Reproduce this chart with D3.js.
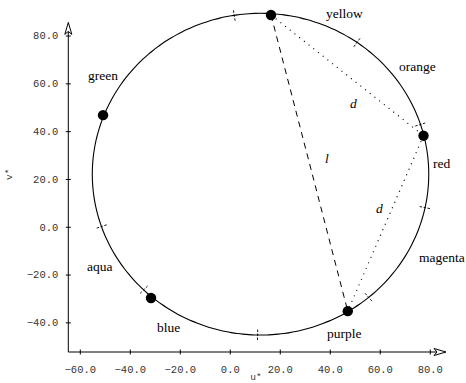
<!DOCTYPE html>
<html>
<head>
<meta charset="utf-8">
<script src="https://cdn.jsdelivr.net/npm/d3@7"></script>
<style>
  html, body { margin: 0; padding: 0; background: #fff; }
  svg { display: block; }
</style>
</head>
<body>
<svg id="chart" width="466" height="383"></svg>
<script>
// Hue circle in the u*v* plane
const tickU = [-60, -40, -20, 0, 20, 40, 60, 80];
const tickV = [-40, -20, 0, 20, 40, 60, 80];

const circleCenter = [12.3, 22.0];
const circleRadius = 67.3;

// Boundaries between named hue regions (degrees)
const boundaryAngles = [99, 55, 18, -12, -50, -91, -134, -161];

// Sample colours on the circle
const pointNames = ["yellow", "red", "green", "blue", "purple"];
const pointU = [16.5, 77.5, -50.7, -31.5, 47.2];
const pointV = [88.6, 38.1, 46.7, -29.8, -35.3];

// Hue region names and where they are written (u*, v*)
const hueNames = ["yellow", "orange", "red", "magenta", "purple", "blue", "aqua", "green"];
const hueLabelU = [38.5, 67.7, 81.3, 75.7, 38.9, -29.1, -57.1, -56.7];
const hueLabelV = [87.4, 65.2, 24.6, -14.9, -46.5, -44.0, -18.5, 61.4];

// Distances between samples: l = yellow-purple, d = yellow-red, d = red-purple
const segments = [
  { from: "yellow", to: "purple", name: "l", style: "dashed", labelU: 38.1, labelV: 26.7 },
  { from: "yellow", to: "red", name: "d", style: "dotted", labelU: 48.1, labelV: 49.7 },
  { from: "red", to: "purple", name: "d", style: "dotted", labelU: 58.5, labelV: 5.8 }
];

const svg = d3.select("#chart");

const x = d3.scaleLinear().domain([-64.6, 86.5]).range([68.3, 446]);
const y = d3.scaleLinear().domain([-52.4, 85.5]).range([352, 22.4]);

const monoFont = "'Liberation Mono', 'DejaVu Sans Mono', monospace";
const serifFont = "'Liberation Serif', 'DejaVu Serif', serif";

// ---- axes ----
const axisY0 = y(-52.4);
const axisX0 = x(-64.6);

const xAxis = d3.axisBottom(x)
  .tickValues(tickU)
  .tickFormat(d3.format(".1f"))
  .tickSize(0)
  .tickPadding(14);
const gx = svg.append("g").attr("transform", `translate(0,${axisY0})`).call(xAxis);
gx.select(".domain").remove();
gx.selectAll(".tick line").attr("y1", -2.5).attr("y2", 2.5).attr("stroke", "#000");
gx.selectAll(".tick text")
  .attr("font-family", monoFont).attr("font-size", 10.5).attr("fill", "#333");

const yAxis = d3.axisLeft(y)
  .tickValues(tickV)
  .tickFormat(d3.format(".1f"))
  .tickSize(0)
  .tickPadding(10);
const gy = svg.append("g").attr("transform", `translate(${axisX0},0)`).call(yAxis);
gy.select(".domain").remove();
gy.selectAll(".tick line").attr("x1", -2.5).attr("x2", 2.5).attr("stroke", "#000");
gy.selectAll(".tick text")
  .attr("font-family", monoFont).attr("font-size", 10.5).attr("fill", "#333");

// axis lines with open arrowheads
const xEnd = x(86.5), yEnd = y(85.5);
svg.append("line").attr("x1", axisX0).attr("y1", axisY0).attr("x2", xEnd - 2).attr("y2", axisY0)
  .attr("stroke", "#000").attr("stroke-width", 1);
svg.append("line").attr("x1", axisX0).attr("y1", axisY0).attr("x2", axisX0).attr("y2", yEnd + 2)
  .attr("stroke", "#000").attr("stroke-width", 1);
svg.append("path")
  .attr("d", `M${xEnd},${axisY0} L${xEnd - 12},${axisY0 - 3.5} L${xEnd - 9},${axisY0} L${xEnd - 12},${axisY0 + 3.5} Z`)
  .attr("fill", "#fff").attr("stroke", "#000").attr("stroke-width", 1);
svg.append("path")
  .attr("d", `M${axisX0},${yEnd} L${axisX0 - 3.5},${yEnd + 12} L${axisX0},${yEnd + 9} L${axisX0 + 3.5},${yEnd + 12} Z`)
  .attr("fill", "#fff").attr("stroke", "#000").attr("stroke-width", 1);

// axis titles
svg.append("text").attr("x", x(10.5)).attr("y", 380)
  .attr("text-anchor", "middle").attr("font-family", monoFont).attr("font-size", 9.5).attr("fill", "#333")
  .text("u*");
svg.append("text").attr("transform", `translate(12,${y(22)}) rotate(-90)`)
  .attr("text-anchor", "middle").attr("font-family", monoFont).attr("font-size", 9.5).attr("fill", "#333")
  .text("v*");

// ---- hue circle ----
const rad = d => d * Math.PI / 180;
const onCircle = (deg, r = circleRadius) => [
  circleCenter[0] + r * Math.cos(rad(deg)),
  circleCenter[1] + r * Math.sin(rad(deg))
];
const circlePts = d3.range(0, 361, 2).map(a => onCircle(a));
svg.append("path")
  .attr("d", d3.line().x(d => x(d[0])).y(d => y(d[1])).curve(d3.curveCardinalClosed)(circlePts.slice(0, -1)))
  .attr("fill", "none").attr("stroke", "#000").attr("stroke-width", 1.1);

// short dashed radial marks at the region boundaries
svg.append("g").selectAll("line").data(boundaryAngles).join("line")
  .each(function (a) {
    const c = onCircle(a);
    const px = x(c[0]), py = y(c[1]);
    // radial direction in screen space
    const dx = Math.cos(rad(a)) * (x(1) - x(0));
    const dy = Math.sin(rad(a)) * (y(1) - y(0));
    const len = Math.hypot(dx, dy);
    const ux = dx / len, uy = dy / len;
    d3.select(this)
      .attr("x1", px - ux * 5.5).attr("y1", py - uy * 5.5)
      .attr("x2", px + ux * 5.5).attr("y2", py + uy * 5.5);
  })
  .attr("stroke", "#000").attr("stroke-width", 0.9).attr("stroke-dasharray", "2.5,1.5");

// ---- distance segments ----
const pointIndex = name => pointNames.indexOf(name);
svg.append("g").selectAll("line").data(segments).join("line")
  .attr("x1", d => x(pointU[pointIndex(d.from)]))
  .attr("y1", d => y(pointV[pointIndex(d.from)]))
  .attr("x2", d => x(pointU[pointIndex(d.to)]))
  .attr("y2", d => y(pointV[pointIndex(d.to)]))
  .attr("stroke", "#000")
  .attr("stroke-width", d => d.style === "dashed" ? 1 : 1.2)
  .attr("stroke-dasharray", d => d.style === "dashed" ? "6,5" : "1,5");

svg.append("g").selectAll("text").data(segments).join("text")
  .attr("x", d => x(d.labelU)).attr("y", d => y(d.labelV))
  .attr("font-family", serifFont).attr("font-style", "italic").attr("font-size", 13.5)
  .text(d => d.name);

// ---- sample points ----
svg.append("g").selectAll("circle").data(pointNames).join("circle")
  .attr("cx", (d, i) => x(pointU[i]))
  .attr("cy", (d, i) => y(pointV[i]))
  .attr("r", 5.2)
  .attr("fill", "#000");

// ---- hue region names ----
svg.append("g").selectAll("text").data(hueNames).join("text")
  .attr("x", (d, i) => x(hueLabelU[i]))
  .attr("y", (d, i) => y(hueLabelV[i]))
  .attr("font-family", serifFont).attr("font-size", 13.5).attr("fill", "#000")
  .text(d => d);
</script>
</body>
</html>
